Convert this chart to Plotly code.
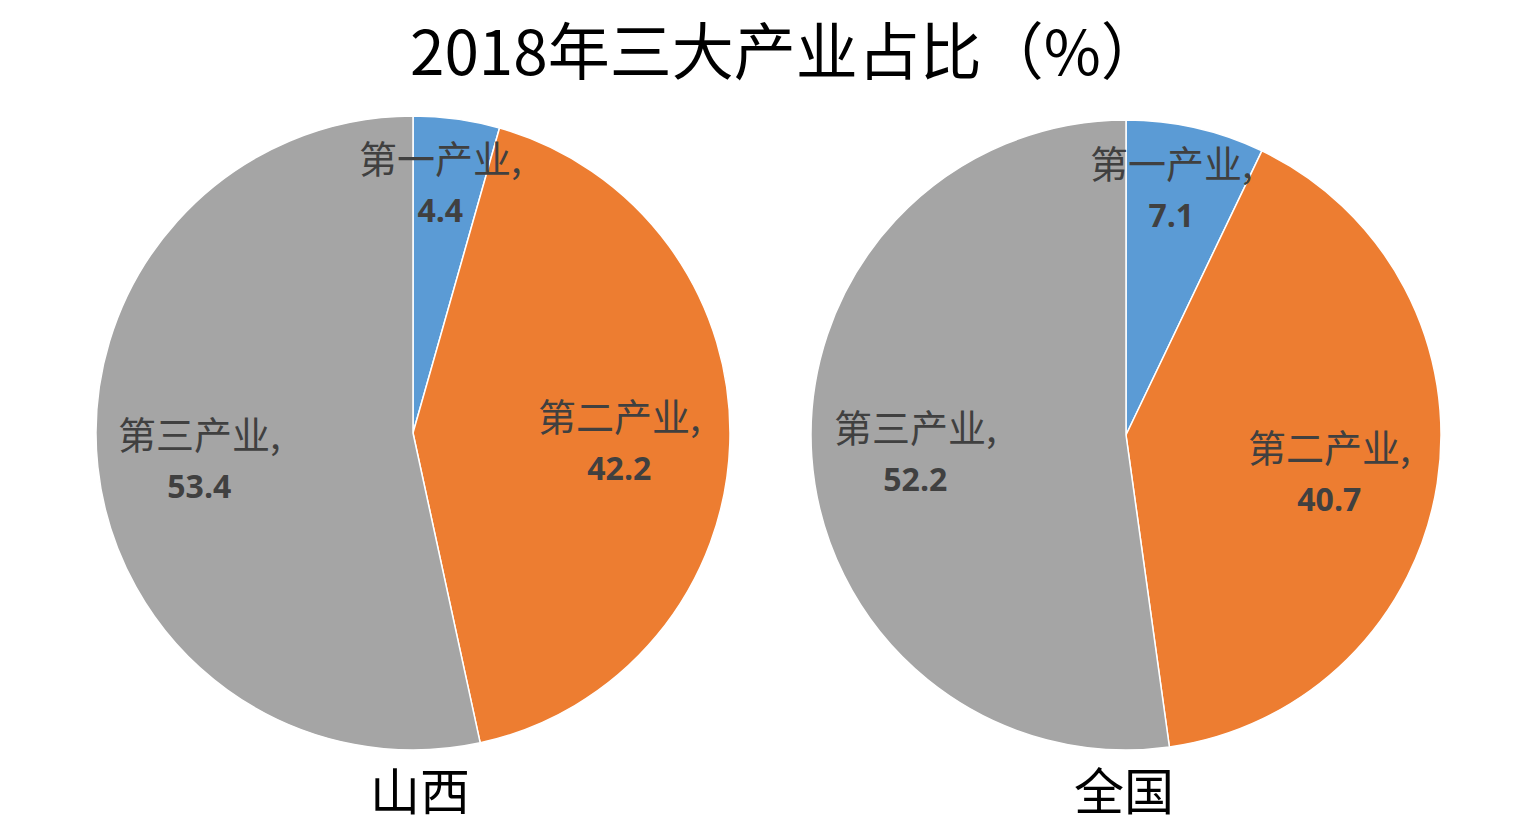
import math
import plotly.graph_objects as go

# ---- data ----
categories = ["第一产业", "第二产业", "第三产业"]
shanxi_values = [4.4, 42.2, 53.4]
national_values = [7.1, 40.7, 52.2]
region_names = ["山西", "全国"]
title_text = "2018年三大产业占比（%）"

# ---- style ----
colors = ["#5B9BD5", "#ED7D31", "#A5A5A5"]
W, H = 1535, 827
domains = [
    dict(x=[96 / W, 730 / W], y=[1 - 750 / H, 1 - 116 / H]),
    dict(x=[811 / W, 1441 / W], y=[1 - 750 / H, 1 - 120 / H]),
]
label_radius = [[0.78, 0.65, 0.68], [0.79, 0.66, 0.67]]
label_shift_px = [[(-7, -8), (1, -1), (1, 0)], [(-10, -7), (-2, 2), (0, -1)]]
subtitle_shift_px = [7, -2]

fig = go.Figure()
annotations = []
for i, (vals, dom) in enumerate(zip([shanxi_values, national_values], domains)):
    fig.add_trace(go.Pie(
        labels=categories, values=vals, domain=dom, sort=False,
        direction="clockwise", rotation=0, textinfo="none",
        marker=dict(colors=colors, line=dict(color="white", width=1.5)),
        showlegend=False, hoverinfo="label+value",
    ))
    # geometry of this pie in pixels
    wpx = (dom["x"][1] - dom["x"][0]) * W
    hpx = (dom["y"][1] - dom["y"][0]) * H
    r = min(wpx, hpx) / 2
    cx = (dom["x"][0] + dom["x"][1]) / 2
    cy = (dom["y"][0] + dom["y"][1]) / 2
    total = sum(vals)
    cum = 0
    for j, (cat, v) in enumerate(zip(categories, vals)):
        mid = (cum + v / 2) / total * 2 * math.pi
        cum += v
        k = label_radius[i][j]
        sx, sy = label_shift_px[i][j]
        x = cx + (k * r * math.sin(mid) + sx) / W
        y = cy + (k * r * math.cos(mid) - sy) / H
        annotations.append(dict(
            x=x, y=y, xref="paper", yref="paper", xanchor="center", yanchor="middle",
            showarrow=False,
            text=f"{cat},<br><span style='font-family:Open Sans;font-size:32px'><b>{v}</b></span>",
            font=dict(family="Noto Sans CJK SC", size=38, color="#404040"),
        ))
    annotations.append(dict(
        x=cx + subtitle_shift_px[i] / W, y=1 - 788 / H, xref="paper", yref="paper",
        xanchor="center", yanchor="middle",
        showarrow=False, text=region_names[i],
        font=dict(family="Noto Sans CJK SC", size=50, color="black"),
    ))

annotations.append(dict(
    x=0.5 + 19 / W, y=1 - 48 / H, xref="paper", yref="paper", xanchor="center", yanchor="middle",
    showarrow=False, text=title_text,
    font=dict(family="Noto Sans CJK SC", size=62, color="black"),
))

fig.update_layout(
    width=W, height=H, margin=dict(l=0, r=0, t=0, b=0),
    paper_bgcolor="white", plot_bgcolor="white",
    annotations=annotations,
)
fig.write_html(
    "out.html",
    config={"displayModeBar": False},
    post_script="document.body.style.margin='0';document.body.style.overflow='hidden';",
)
